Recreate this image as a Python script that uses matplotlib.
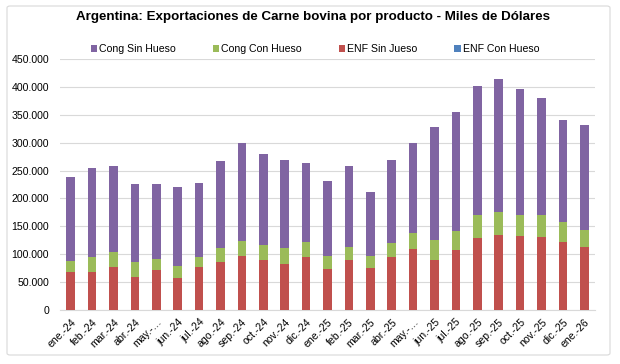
import matplotlib
matplotlib.use("Agg")
import matplotlib.pyplot as plt
from matplotlib.ticker import FuncFormatter, MultipleLocator
from matplotlib.patches import FancyBboxPatch
import numpy as np

plt.rcParams['font.family'] = ['Liberation Sans', 'DejaVu Sans']

months = ["ene.-24", "feb.-24", "mar.-24", "abr.-24", "may.-…", "jun.-24", "jul.-24",
          "ago.-24", "sep.-24", "oct.-24", "nov.-24", "dic.-24", "ene.-25", "feb.-25",
          "mar.-25", "abr.-25", "may.-…", "jun.-25", "jul.-25", "ago.-25", "sep.-25",
          "oct.-25", "nov.-25", "dic.-25", "ene.-26"]

# Miles de dólares
enf_con_hueso = [300, 300, 300, 300, 300, 300, 300, 300, 300, 300, 300, 300, 300,
                 300, 300, 300, 300, 300, 300, 300, 300, 300, 300, 300, 300]
enf_sin_hueso = [68000, 68000, 76000, 59500, 71500, 57700, 76000, 86000, 96000, 90000,
                 83000, 95000, 74000, 90000, 74400, 94000, 109500, 90000, 107700,
                 128600, 135000, 133000, 131000, 121000, 112500]
cong_con_hueso = [19500, 27000, 27000, 25500, 20500, 21000, 18600, 24000, 27000, 26000,
                  28000, 26000, 22000, 22500, 22000, 26000, 28000, 35000, 34300,
                  41400, 41000, 37000, 39000, 37000, 31000]
cong_sin_hueso = [150000, 160000, 154700, 140000, 133000, 141000, 133400, 156700,
                  176400, 163000, 157000, 142000, 134400, 144500, 114300, 148000,
                  161300, 203000, 213000, 231800, 238300, 226400, 210400, 182000, 188500]

series = [
    ("Cong Sin Hueso", cong_sin_hueso, "#8064A2"),
    ("Cong Con Hueso", cong_con_hueso, "#9BBB59"),
    ("ENF Sin Jueso", enf_sin_hueso, "#C0504D"),
    ("ENF Con Hueso", enf_con_hueso, "#4F81BD"),
]

fig = plt.figure(figsize=(6.2, 3.64), dpi=100)
fig.patch.set_facecolor("white")

# chart border
border = FancyBboxPatch((7/620, 1 - 355/364), (610-7)/620, (355-6)/364,
                        boxstyle="round,pad=0,rounding_size=0.005",
                        transform=fig.transFigure, facecolor="none",
                        edgecolor="#D9D9D9", linewidth=0.8, zorder=-1)
fig.patches.append(border)

ax = fig.add_axes([60/620, 1 - 310/364, (595-60)/620, (310-59)/364])
ax.set_facecolor("none")
x = np.arange(len(months))
width = 0.4

stack_order = [series[3], series[2], series[1], series[0]]
bottom = np.zeros(len(months))
handles = {}
for name, vals, color in stack_order:
    v = np.array(vals, dtype=float)
    b = ax.bar(x, v, width, bottom=bottom, color=color, label=name, zorder=3)
    handles[name] = b
    bottom += v

ax.set_xlim(-0.5, len(months) - 0.5)
ax.set_ylim(0, 450000)
ax.yaxis.set_major_locator(MultipleLocator(50000))
ax.yaxis.set_major_formatter(FuncFormatter(lambda v, p: f"{int(v):,}".replace(",", ".")))
ax.grid(axis="y", color="#D9D9D9", linewidth=0.8, zorder=0)
for s in ["top", "right", "left"]:
    ax.spines[s].set_visible(False)
ax.spines["bottom"].set_color("#D9D9D9")
ax.spines["bottom"].set_linewidth(0.8)
ax.tick_params(axis="y", length=0, labelsize=7.6, pad=8, colors="#000000")
ax.tick_params(axis="x", length=0, labelsize=7.6, pad=5)
ax.set_xticks(x)
ax.set_xticklabels(months, rotation=45, ha="right", rotation_mode="anchor")

fig.text(313/620, 1 - 17/364, "Argentina: Exportaciones de Carne bovina por producto - Miles de Dólares",
         ha="center", va="center", fontsize=9.6, fontweight="bold")

leg = fig.legend([handles[n] for n, _, _ in series], [n for n, _, _ in series],
                 loc="center", bbox_to_anchor=(315/620, 1 - 49/364), ncol=4,
                 frameon=False, fontsize=7.6, handlelength=0.6, handleheight=0.6,
                 handletextpad=0.2, columnspacing=3.5)

fig.savefig("out.png", dpi=100, facecolor="white")
